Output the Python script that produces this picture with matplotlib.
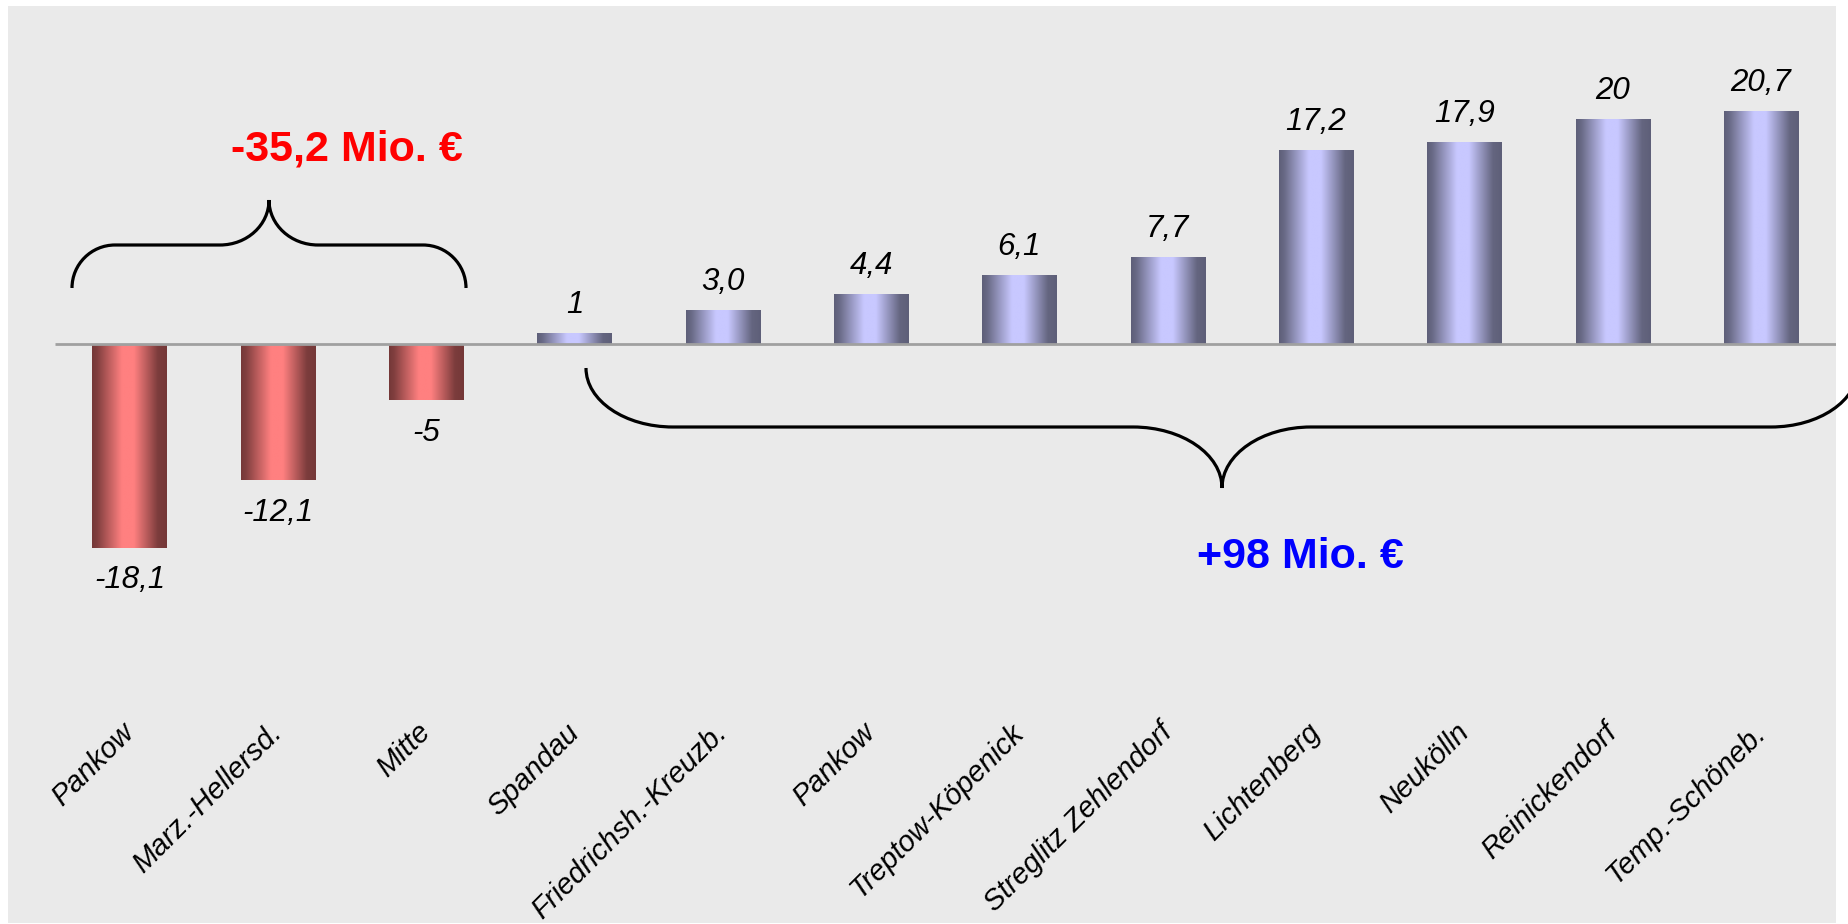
import numpy as np
import matplotlib
matplotlib.use("Agg")
import matplotlib.pyplot as plt
from matplotlib.path import Path
from matplotlib.patches import PathPatch

# ---------------- data ----------------
categories = ["Pankow", "Marz.-Hellersd.", "Mitte", "Spandau", "Friedrichsh.-Kreuzb.",
              "Pankow", "Treptow-Köpenick", "Streglitz Zehlendorf", "Lichtenberg",
              "Neukölln", "Reinickendorf", "Temp.-Schöneb."]
values = [-18.1, -12.1, -5, 1, 3.0, 4.4, 6.1, 7.7, 17.2, 17.9, 20, 20.7]
value_labels = ["-18,1", "-12,1", "-5", "1", "3,0", "4,4", "6,1", "7,7",
                "17,2", "17,9", "20", "20,7"]
total_negative = "-35,2 Mio. €"
total_positive = "+98 Mio. €"

# ---------------- figure ----------------
W, H, DPI = 1848, 924, 100
fig = plt.figure(figsize=(W / DPI, H / DPI), dpi=DPI, facecolor="white")
plt.rcParams["font.family"] = ["Liberation Sans", "DejaVu Sans"]

# pixel geometry of the panel
px_left, px_right, px_top, px_bottom = 8, 1836, 6, 923
ax = fig.add_axes([px_left / W, (H - px_bottom) / H,
                   (px_right - px_left) / W, (px_bottom - px_top) / H])
ax.set_facecolor("#EAEAEA")
for s in ax.spines.values():
    s.set_visible(False)
ax.set_xticks([])
ax.set_yticks([])

x0_px, step_px = 129.5, 148.32      # category centre / spacing in px
zero_px, unit_px = 344.0, 11.26     # y of zero and px per unit


def X(px):
    return (px - x0_px) / step_px


def Y(py):
    return (zero_px - py) / unit_px


ax.set_xlim(X(px_left), X(px_right))
ax.set_ylim(Y(px_bottom), Y(px_top))

# zero line
ax.hlines(0, X(55), X(px_right), color="#A0A0A0", lw=2.0, zorder=3)

# ---------------- bars with gradient ----------------
xs = np.arange(len(values))
bars = ax.bar(xs, values, width=0.5, color="#C8C8FF", edgecolor="none", zorder=2)

t = np.linspace(0, 1, 256)
prof = np.interp(t, [0, 0.07, 0.40, 0.56, 0.88, 1.0],
                 [0.0, 0.10, 1.0, 1.0, 0.06, 0.0])
blue_dark = np.array([0x5E, 0x5F, 0x78]) / 255
blue_light = np.array([0xC8, 0xC8, 0xFF]) / 255
red_dark = np.array([0x74, 0x38, 0x38]) / 255
red_light = np.array([0xFF, 0x80, 0x80]) / 255

for b, v in zip(bars, values):
    dark, light = (red_dark, red_light) if v < 0 else (blue_dark, blue_light)
    grad = dark[None, :] + (light - dark)[None, :] * prof[:, None]
    img = grad[None, :, :]
    bx, bw = b.get_x(), b.get_width()
    by, bh = b.get_y(), b.get_height()
    im = ax.imshow(img, extent=[bx, bx + bw, min(by, by + bh), max(by, by + bh)],
                   aspect="auto", interpolation="bilinear", zorder=2.5)
    im.set_clip_path(b)

# value labels
for x, v, lab in zip(xs, values, value_labels):
    if v >= 0:
        ax.annotate(lab, (x, v), xytext=(0, 14.5), textcoords="offset points",
                    ha="center", va="baseline", fontsize=22.5, style="italic")
    else:
        ax.annotate(lab, (x, v), xytext=(0, -12.5), textcoords="offset points",
                    ha="center", va="top", fontsize=22.5, style="italic")

# category labels
for x, lab in zip(xs, categories):
    ax.text(x, Y(728), lab, rotation=45, rotation_mode="anchor",
            ha="right", va="center", fontsize=21, style="italic")


# ---------------- braces ----------------
def brace_path(xl, xr, y_end, y_mid, y_tip, rx1, rx2):
    k = 0.5523
    xt = 0.5 * (xl + xr)
    verts, codes = [], []

    def add(pts, c):
        verts.extend(pts)
        codes.extend(c)

    add([(xl, y_end)], [Path.MOVETO])
    add([(xl, y_end + k * (y_mid - y_end)), (xl + rx1 * (1 - k), y_mid), (xl + rx1, y_mid)],
        [Path.CURVE4] * 3)
    add([(xt - rx2, y_mid)], [Path.LINETO])
    add([(xt - rx2 + k * rx2, y_mid), (xt, y_tip - k * (y_tip - y_mid)), (xt, y_tip)],
        [Path.CURVE4] * 3)
    add([(xt, y_tip - k * (y_tip - y_mid)), (xt + rx2 - k * rx2, y_mid), (xt + rx2, y_mid)],
        [Path.CURVE4] * 3)
    add([(xr - rx1, y_mid)], [Path.LINETO])
    add([(xr - rx1 * (1 - k), y_mid), (xr, y_end + k * (y_mid - y_end)), (xr, y_end)],
        [Path.CURVE4] * 3)
    return Path(verts, codes)


sx = 1.0 / step_px
top_brace = brace_path(X(72), X(466), Y(288), Y(245), Y(200), 43 * sx, 49 * sx)
bot_brace = brace_path(X(586), X(1858), Y(368), Y(427), Y(488), 87 * sx, 89 * sx)
for p in (top_brace, bot_brace):
    ax.add_patch(PathPatch(p, facecolor="none", edgecolor="black", lw=2.3,
                           zorder=4, clip_on=False, capstyle="butt"))

# totals
ax.text(X(347), Y(160), total_negative, color="#FF0000", fontsize=31,
        fontweight="bold", ha="center", va="baseline")
ax.text(X(1300), Y(568), total_positive, color="#0000FF", fontsize=31,
        fontweight="bold", ha="center", va="baseline")

fig.savefig("out.png", dpi=DPI, facecolor="white")
